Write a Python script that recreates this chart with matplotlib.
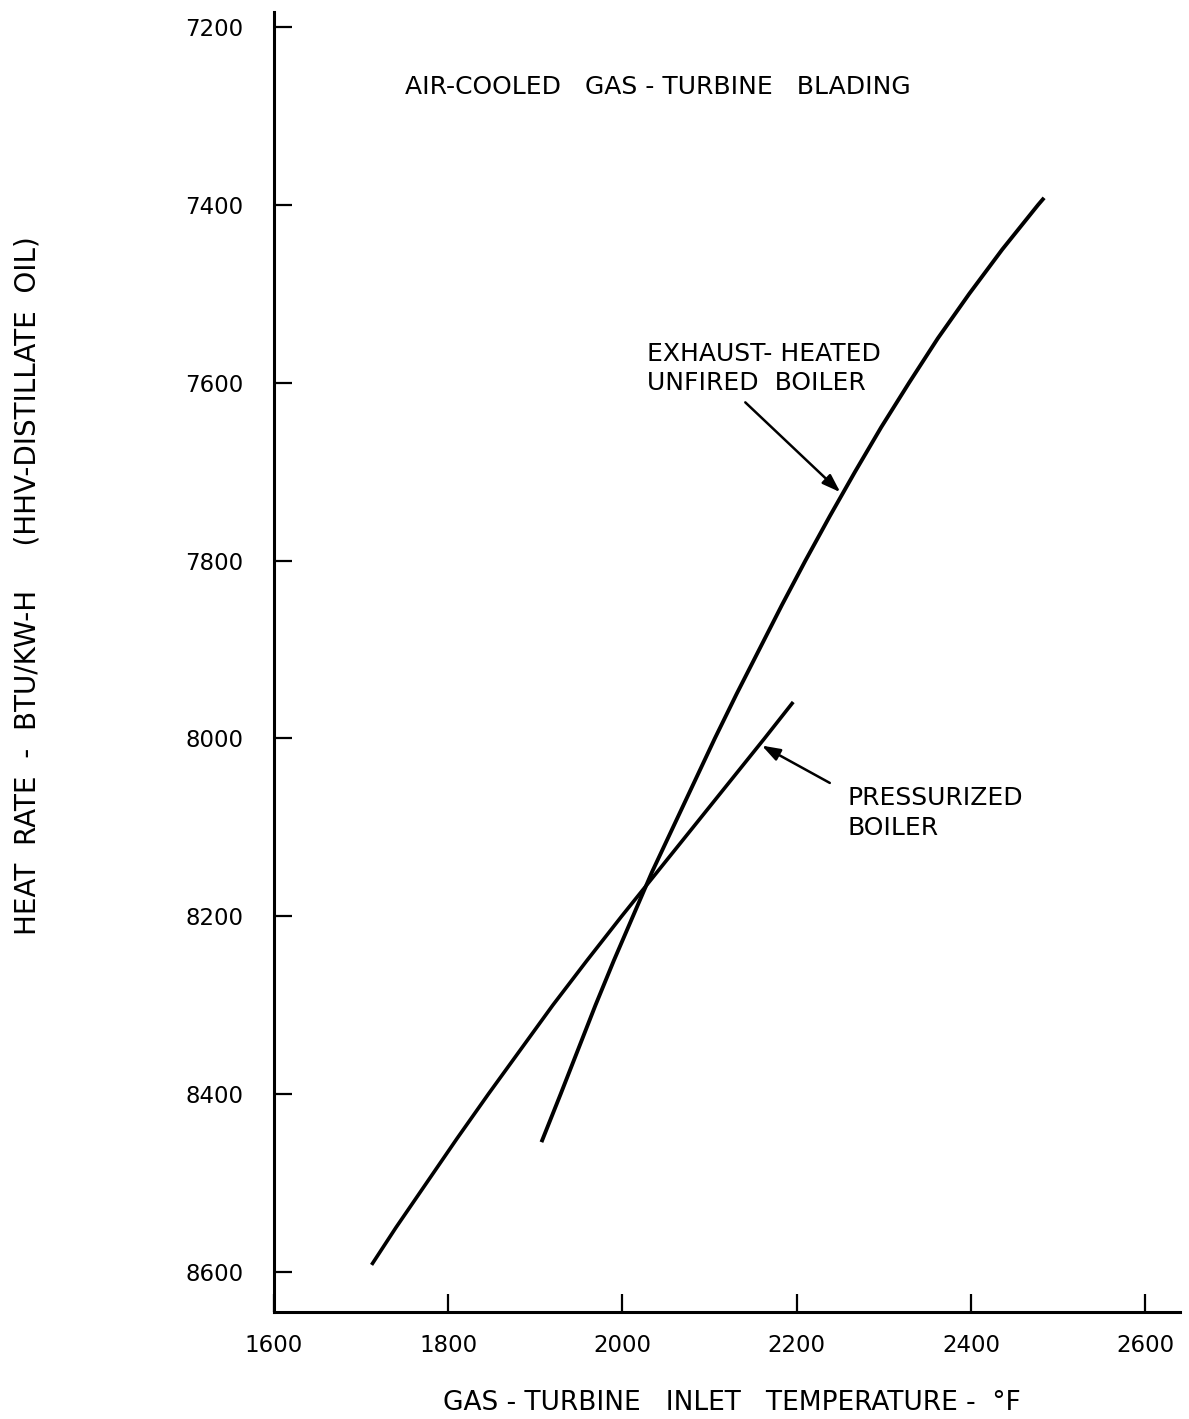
import matplotlib
matplotlib.use("Agg")
import matplotlib.pyplot as plt

# Gas-turbine inlet temperature (deg F) vs. plant heat rate (Btu/kW-h)
exhaust_rate = [8454, 8400, 8350, 8300, 8250, 8200, 8150, 8100, 8050, 8000, 7950, 7900,
                7850, 7800, 7750, 7700, 7650, 7600, 7550, 7500, 7450, 7400, 7392]
exhaust_temp = [1907, 1929, 1949, 1969, 1990, 2012, 2034, 2058, 2082, 2106, 2131, 2157,
                2183, 2210, 2238, 2267, 2297, 2329, 2362, 2398, 2436, 2477, 2484]

pressurized_rate = [8592, 8550, 8500, 8450, 8400, 8350, 8300, 8250, 8200, 8150,
                    8100, 8050, 8000, 7959]
pressurized_temp = [1712, 1740, 1775, 1810, 1846, 1883, 1920, 1959, 1999, 2040,
                    2081, 2122, 2163, 2196]

x_ticks = [1600, 1800, 2000, 2200, 2400, 2600]
y_ticks = [7200, 7400, 7600, 7800, 8000, 8200, 8400, 8600]

plt.rcParams['font.family'] = ['DejaVu Sans']

fig = plt.figure(figsize=(11.89, 14.19), dpi=100)
ax = fig.add_axes([274 / 1189, 1 - 1312 / 1419, 906 / 1189, 1300 / 1419])

ax.plot(exhaust_temp, exhaust_rate, color='black', lw=2.8,
        solid_capstyle='butt', solid_joinstyle='round')
ax.plot(pressurized_temp, pressurized_rate, color='black', lw=2.6,
        solid_capstyle='butt', solid_joinstyle='round')

ax.set_xlim(1600, 2640)
ax.set_ylim(8645, 7183)

for side in ('top', 'right'):
    ax.spines[side].set_visible(False)
for side in ('left', 'bottom'):
    ax.spines[side].set_linewidth(2.2)

ax.set_xticks(x_ticks)
ax.set_xticklabels([str(v) for v in x_ticks])
ax.set_yticks(y_ticks)
ax.set_yticklabels([str(v) for v in y_ticks])
ax.tick_params(axis='x', direction='in', length=13, width=1.6, pad=16, labelsize=16.5)
ax.tick_params(axis='y', direction='in', length=13, width=1.6, pad=22, labelsize=16.5)

ax.set_xlabel('GAS - TURBINE   INLET   TEMPERATURE -  °F', fontsize=19)
ax.xaxis.label.set_va('center')
ax.xaxis.set_label_coords(0.5055, -0.070)
ax.set_ylabel('HEAT  RATE  -  BTU/KW-H     (HHV-DISTILLATE  OIL)', fontsize=20)
ax.yaxis.label.set_va('center')
ax.yaxis.set_label_coords(-0.2726, 0.5585)

ax.text(1750, 7267, 'AIR-COOLED   GAS - TURBINE   BLADING', fontsize=18,
        ha='left', va='center')

ax.text(2028, 7584, 'EXHAUST- HEATED\nUNFIRED  BOILER', fontsize=18,
        ha='left', va='center', linespacing=1.3)
ax.text(2258, 8084, 'PRESSURIZED\nBOILER', fontsize=18,
        ha='left', va='center', linespacing=1.3)

arrow = dict(arrowstyle='-|>,head_length=1.1,head_width=0.38', color='black',
             lw=1.8, shrinkA=0, shrinkB=0)
ax.annotate('', xy=(2250, 7723), xytext=(2141, 7622), arrowprops=arrow)
ax.annotate('', xy=(2160, 8008), xytext=(2238, 8050), arrowprops=arrow)

fig.savefig('out.png', dpi=100, facecolor='white')
